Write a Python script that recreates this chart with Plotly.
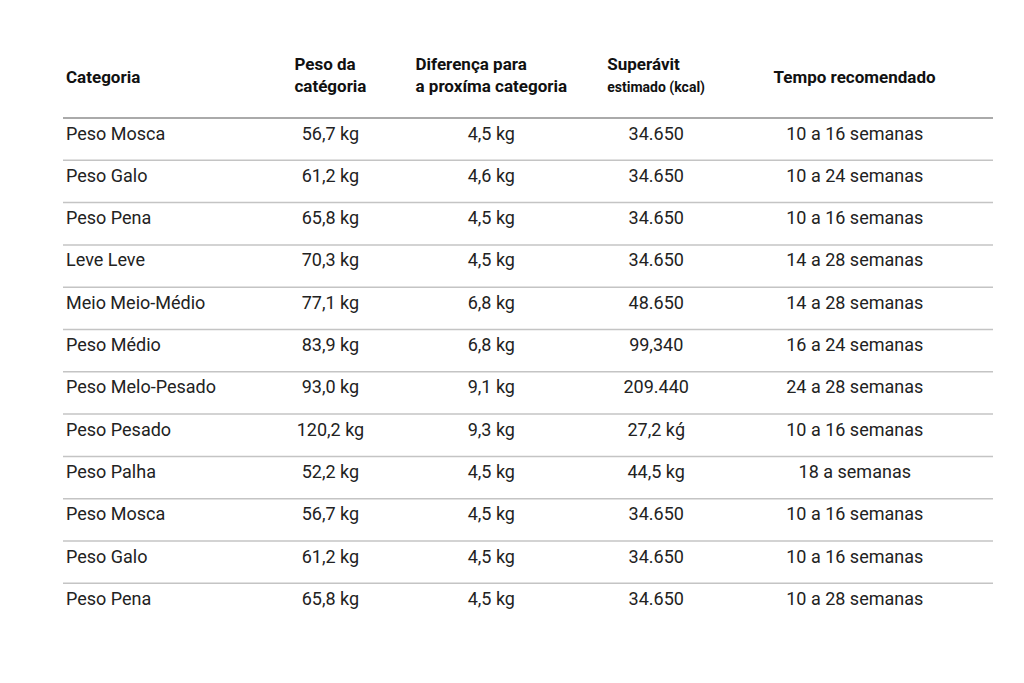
import plotly.graph_objects as go

headers = ["<span style='font-size:8px'> <br></span>Categoria", "Peso da<br>catégoria", "Diferença para<br>a proxíma categoria",
           "Superávit<br><span style='font-size:14px'>estimado (kcal)</span>",
           "<span style='font-size:8px'> <br></span>Tempo recomendado"]
categorias = ["Peso Mosca", "Peso Galo", "Peso Pena", "Leve Leve", "Meio Meio-Médio", "Peso Médio",
              "Peso Melo-Pesado", "Peso Pesado", "Peso Palha", "Peso Mosca", "Peso Galo", "Peso Pena"]
peso = ["56,7 kg", "61,2 kg", "65,8 kg", "70,3 kg", "77,1 kg", "83,9 kg", "93,0 kg", "120,2 kg",
        "52,2 kg", "56,7 kg", "61,2 kg", "65,8 kg"]
diferenca = ["4,5 kg", "4,6 kg", "4,5 kg", "4,5 kg", "6,8 kg", "6,8 kg", "9,1 kg", "9,3 kg",
             "4,5 kg", "4,5 kg", "4,5 kg", "4,5 kg"]
superavit = ["34.650", "34.650", "34.650", "34.650", "48.650", "99,340", "209.440", "27,2 kǵ",
             "44,5 kg", "34.650", "34.650", "34.650"]
tempo = ["10 a 16 semanas", "10 a 24 semanas", "10 a 16 semanas", "14 a 28 semanas", "14 a 28 semanas",
         "16 a 24 semanas", "24 a 28 semanas", "10 a 16 semanas", "18 a semanas", "10 a 16 semanas",
         "10 a 16 semanas", "10 a 28 semanas"]

H = 683
top, head_h, row_h = 38, 72, 42.3
fig = go.Figure(go.Table(
    columnwidth=[215, 112, 208, 120, 275],
    domain=dict(x=[50/1024, 985/1024], y=[0, 1-top/H]),
    header=dict(values=[f"<b>{h}</b>" for h in headers], height=head_h,
                align=["left", "center", "center", "center", "center"],
                fill_color="white", line=dict(color="white", width=0),
                font=dict(family="Roboto", size=17, color="#111")),
    cells=dict(values=[categorias, peso, diferenca, superavit, tempo], height=row_h,
               align=["left", "center", "center", "center", "center"],
               fill_color="white", line=dict(color="white", width=0),
               font=dict(family="Roboto", size=18, color="#222")),
))
shapes = []
for i in range(len(categorias)):
    ypx = top + head_h + i * row_h
    shapes.append(dict(type="line", xref="paper", yref="paper", x0=55/1024, x1=985/1024,
                       y0=1-ypx/H, y1=1-ypx/H,
                       line=dict(color="#aaaaaa" if i == 0 else "#c4c4c4", width=2 if i == 0 else 1.5)))
fig.update_layout(width=1024, height=683, margin=dict(l=0, r=0, t=0, b=0),
                  paper_bgcolor="white", shapes=shapes)
fig.write_html("out.html")
